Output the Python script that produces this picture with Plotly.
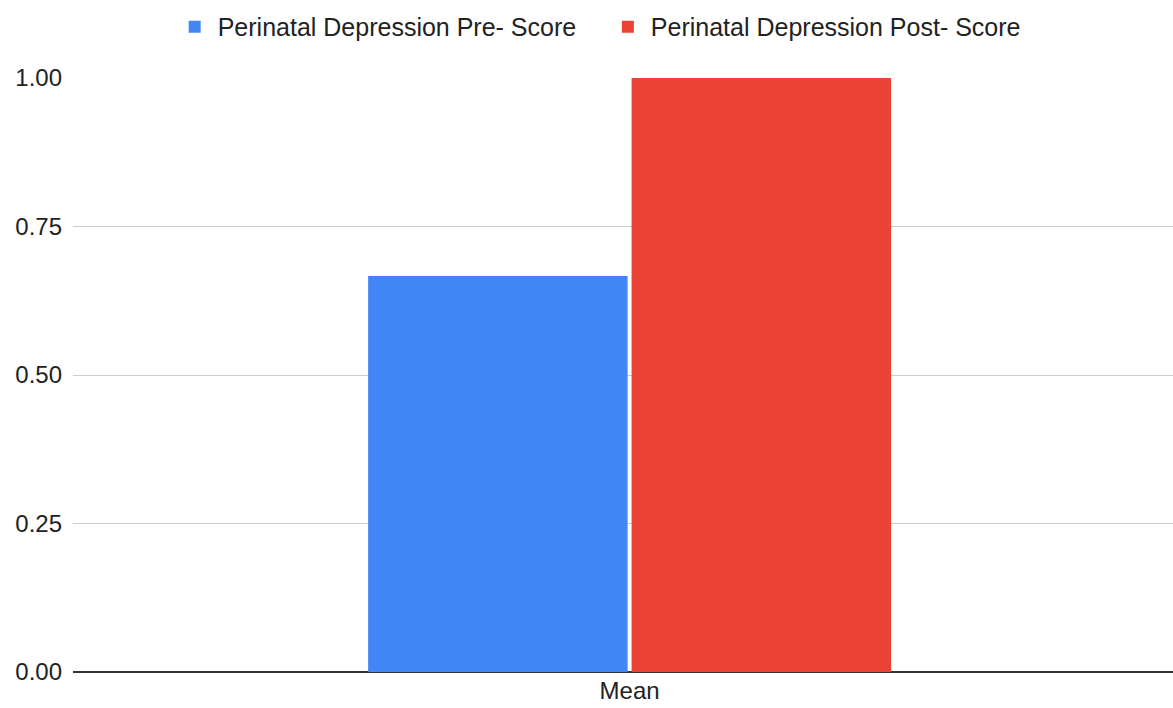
import plotly.graph_objects as go

categories = ["Mean"]
pre_scores = [0.6667]
post_scores = [1.0]
series_names = ["Perinatal Depression Pre- Score", "Perinatal Depression Post- Score"]
y_ticks = [0, 0.25, 0.5, 0.75, 1.0]
y_tick_labels = ["0.00", "0.25", "0.50", "0.75", "1.00"]

fig = go.Figure()
fig.add_trace(go.Bar(x=categories, y=pre_scores, name=series_names[0], legend="legend",
                     marker=dict(color="#4285F4", line=dict(width=0))))
fig.add_trace(go.Bar(x=categories, y=post_scores, name=series_names[1], legend="legend2",
                     marker=dict(color="#EA4335", line=dict(width=0))))

legend_style = dict(orientation="h", yanchor="middle", y=1.086, xanchor="left",
                    font=dict(size=25, color="#222222"), itemwidth=36,
                    bgcolor="rgba(0,0,0,0)")

fig.update_layout(
    width=1173, height=708,
    margin=dict(l=73, r=0, t=78, b=36),
    paper_bgcolor="white", plot_bgcolor="white",
    barmode="group", bargap=0.521, bargroupgap=0.015,
    font=dict(family="Liberation Sans, Arial, sans-serif", size=24, color="#222222"),
    legend=dict(x=0.0897, **legend_style),
    legend2=dict(x=0.4835, **legend_style),
    showlegend=True,
)
fig.update_xaxes(range=[-0.506, 0.494], showgrid=False, showline=False, ticks="",
                 ticklabelstandoff=2,
                 tickfont=dict(size=24, color="#222222"))
fig.update_yaxes(range=[0, 1.0], tickvals=y_ticks, ticktext=y_tick_labels,
                 showgrid=True, gridcolor="#cccccc", gridwidth=1,
                 zeroline=True, zerolinecolor="#333333", zerolinewidth=2,
                 showline=False, ticks="", ticklabelstandoff=10,
                 tickfont=dict(size=24, color="#222222"))

fig.write_html("out.html", config={"displayModeBar": False},
               post_script="document.body.style.margin='0';document.body.style.overflow='hidden';")
